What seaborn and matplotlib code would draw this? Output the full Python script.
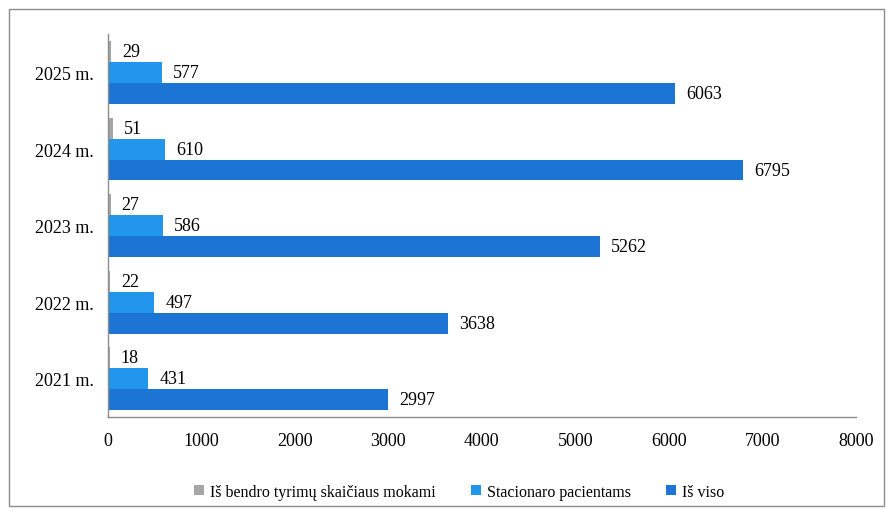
import pandas as pd
import matplotlib.pyplot as plt
import seaborn as sns
from matplotlib.patches import Rectangle

# duomenys
metai = ["2025 m.", "2024 m.", "2023 m.", "2022 m.", "2021 m."]
mokami = [29, 51, 27, 22, 18]
stacionaro = [577, 610, 586, 497, 431]
is_viso = [6063, 6795, 5262, 3638, 2997]
serijos = ["Iš bendro tyrimų skaičiaus mokami", "Stacionaro pacientams", "Iš viso"]
spalvos = ["#a6a6a6", "#2196ec", "#1c74d4"]

df = pd.DataFrame({"metai": metai * 3,
                   "reiksme": mokami + stacionaro + is_viso,
                   "serija": [serijos[0]] * 5 + [serijos[1]] * 5 + [serijos[2]] * 5})

sns.set_style("white")
plt.rcParams["font.family"] = ["Liberation Serif", "DejaVu Serif"]
plt.rcParams["text.color"] = "black"
plt.rcParams["xtick.color"] = "black"
plt.rcParams["ytick.color"] = "black"

fig = plt.figure(figsize=(8.88, 5.10), dpi=100)
ax = fig.add_axes([0.1216, 0.180, 0.842, 0.751])
sns.barplot(data=df, x="reiksme", y="metai", hue="serija", order=metai,
            hue_order=serijos, palette=spalvos, orient="h", width=0.82,
            saturation=1, linewidth=0, ax=ax, legend=True)

for cont in ax.containers:
    ax.bar_label(cont, labels=[f"{int(v)}" for v in cont.datavalues],
                 padding=8, fontsize=13, color="black")

ax.set_xlim(0, 8000)
ax.set_xticks(range(0, 8001, 1000))
ax.set_xlabel("")
ax.set_ylabel("")
ax.tick_params(axis="x", length=0, pad=11, labelsize=13)
ax.tick_params(axis="y", length=0, pad=10, labelsize=13)
for s in ["top", "right"]:
    ax.spines[s].set_visible(False)
for s in ["left", "bottom"]:
    ax.spines[s].set_color("#8c8c8c")
    ax.spines[s].set_linewidth(1)

h, l = ax.get_legend_handles_labels()
ax.legend(h, l, loc="center", bbox_to_anchor=(0.47, -0.195), ncol=3,
          frameon=False, fontsize=11.5, handlelength=0.6, handleheight=0.6,
          handletextpad=0.4, columnspacing=2.2)

fig.patches.append(Rectangle((0.01, 0.005), 0.985, 0.975, transform=fig.transFigure,
                             fill=False, edgecolor="#8c8c8c", linewidth=1))

fig.savefig("out.png", dpi=100)
